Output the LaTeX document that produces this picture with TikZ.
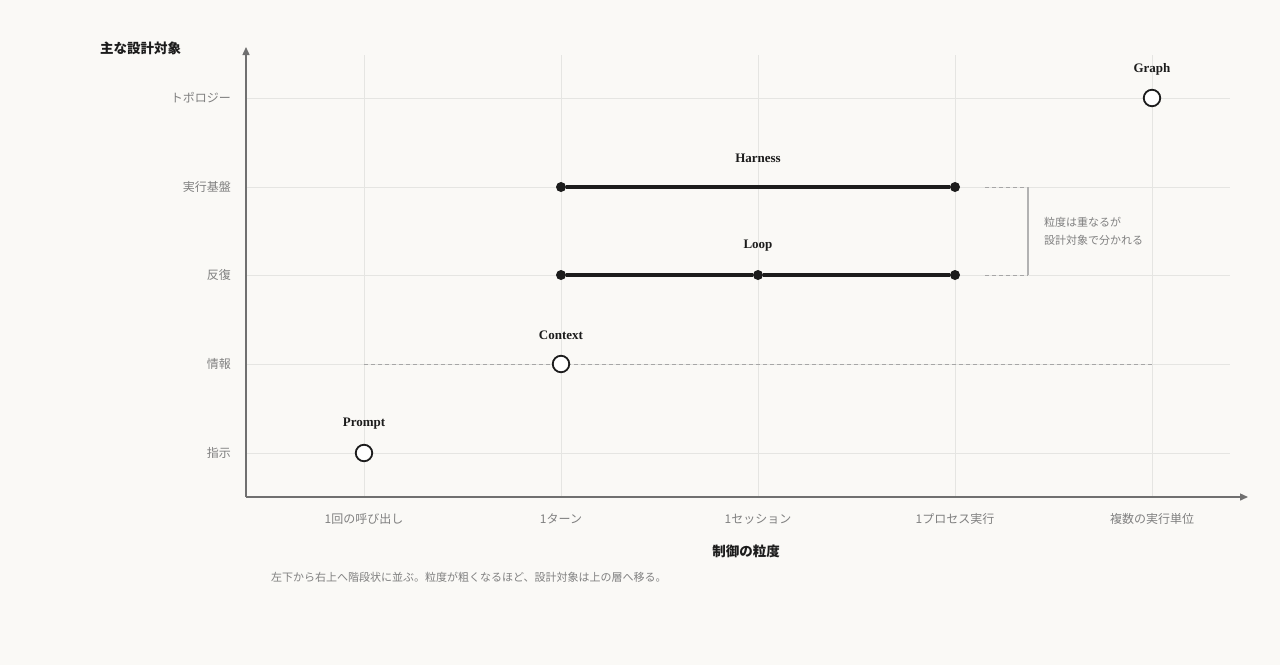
\documentclass[tikz,border=0pt]{standalone}
\usepackage{fontspec}
\setmainfont{Liberation Serif}
\newfontfamily\cjk{Noto Sans CJK JP}
\usetikzlibrary{arrows.meta}

\definecolor{paper}{RGB}{250,249,246}
\definecolor{gridgray}{RGB}{229,229,226}
\definecolor{axisgray}{RGB}{112,112,112}
\definecolor{labelgray}{RGB}{128,128,128}
\definecolor{ink}{RGB}{28,28,28}

\tikzset{
  rowlabel/.style={anchor=east,inner sep=0pt,text=labelgray,font=\cjk\fontsize{12}{14}\selectfont},
  collabel/.style={text=labelgray,font=\cjk\fontsize{12}{14}\selectfont},
  itemlabel/.style={text=ink,font=\bfseries\fontsize{13}{15}\selectfont},
  ring/.style={circle,draw=ink,line width=1.8pt,fill=white,minimum size=16.5pt,inner sep=0pt},
  dot/.style={circle,fill=ink,minimum size=10pt,inner sep=0pt},
  span/.style={draw=ink,line width=3.2pt},
  guide/.style={draw=gray!70,dashed,dash pattern=on 4pt off 3pt,line width=0.8pt},
}

\begin{document}
\begin{tikzpicture}[x=1pt,y=-1pt]
  \fill[paper] (0,0) rectangle (1280,665);
  \useasboundingbox (0,0) rectangle (1280,665);

  % grid
  \foreach \x in {364,561,758,955,1152}
    \draw[gridgray,line width=1pt] (\x,55) -- (\x,497);
  \foreach \y in {98,187,275,364,453}
    \draw[gridgray,line width=1pt] (246,\y) -- (1230,\y);

  % axes
  \coordinate (origin) at (246,497);
  \coordinate (ytop) at (246,47);
  \coordinate (xend) at (1248,497);
  \draw[axisgray,line width=1.4pt,-{Triangle[length=8pt,width=7pt]}] (origin) -- (ytop);
  \draw[axisgray,line width=1.4pt,-{Triangle[length=8pt,width=7pt]}] (origin) -- (xend);

  % row and column labels
  \foreach \y/\t [count=\i] in {98/トポロジー,187/実行基盤,275/反復,364/情報,453/指示}
    \node[rowlabel] (row-\i) at (231,\y) {\t};
  \foreach \x/\t [count=\i] in {364/1回の呼び出し,561/1ターン,758/1セッション,955/1プロセス実行,1152/複数の実行単位}
    \node[collabel] (col-\i) at (\x,519) {\t};

  \node[anchor=west,inner sep=0pt,text=ink,font=\cjk\bfseries\fontsize{13.5}{15}\selectfont] (ytitle) at (100,48) {主な設計対象};
  \node[text=ink,font=\cjk\bfseries\fontsize{13.5}{15}\selectfont] (xtitle) at (746,551) {制御の粒度};
  \node[anchor=west,inner sep=0pt,text=labelgray,font=\cjk\fontsize{11}{14}\selectfont] (caption) at (271,577)
    {左下から右上へ階段状に並ぶ。粒度が粗くなるほど、設計対象は上の層へ移る。};

  % context spread
  \coordinate (ctx-from) at (364,364);
  \coordinate (ctx-to) at (1152,364);
  \draw[guide] (ctx-from) -- (ctx-to);

  % points
  \node[ring] (prompt) at (364,453) {};
  \node[ring] (context) at (561,364) {};
  \node[ring] (graph) at (1152,98) {};
  \node[itemlabel] at (364,424) {Prompt};
  \node[itemlabel] at (561,335) {Context};
  \node[itemlabel] at (1152,69) {Graph};

  % spans
  \node[dot] (loop-a) at (561,275) {};
  \node[dot] (loop-b) at (758,275) {};
  \node[dot] (loop-c) at (955,275) {};
  \draw[span] (loop-a) -- (loop-b) -- (loop-c);
  \node[itemlabel] at (758,246) {Loop};
  \node[dot] (harness-a) at (561,187) {};
  \node[dot] (harness-b) at (955,187) {};
  \draw[span] (harness-a) -- (harness-b);
  \node[itemlabel] at (758,158) {Harness};

  % bracket
  \coordinate (br-top-l) at (985,187);
  \coordinate (br-top-r) at (1028,187);
  \coordinate (br-bot-l) at (985,275);
  \coordinate (br-bot-r) at (1028,275);
  \draw[guide] (br-top-l) -- (br-top-r);
  \draw[guide] (br-bot-l) -- (br-bot-r);
  \draw[gray!60,line width=1.2pt] (br-top-r) -- (br-bot-r);
  \node[anchor=west,inner sep=0pt,align=left,text=labelgray,font=\cjk\fontsize{11}{18}\selectfont] (note) at (1044,231)
    {粒度は重なるが\\設計対象で分かれる};
\end{tikzpicture}
\end{document}
